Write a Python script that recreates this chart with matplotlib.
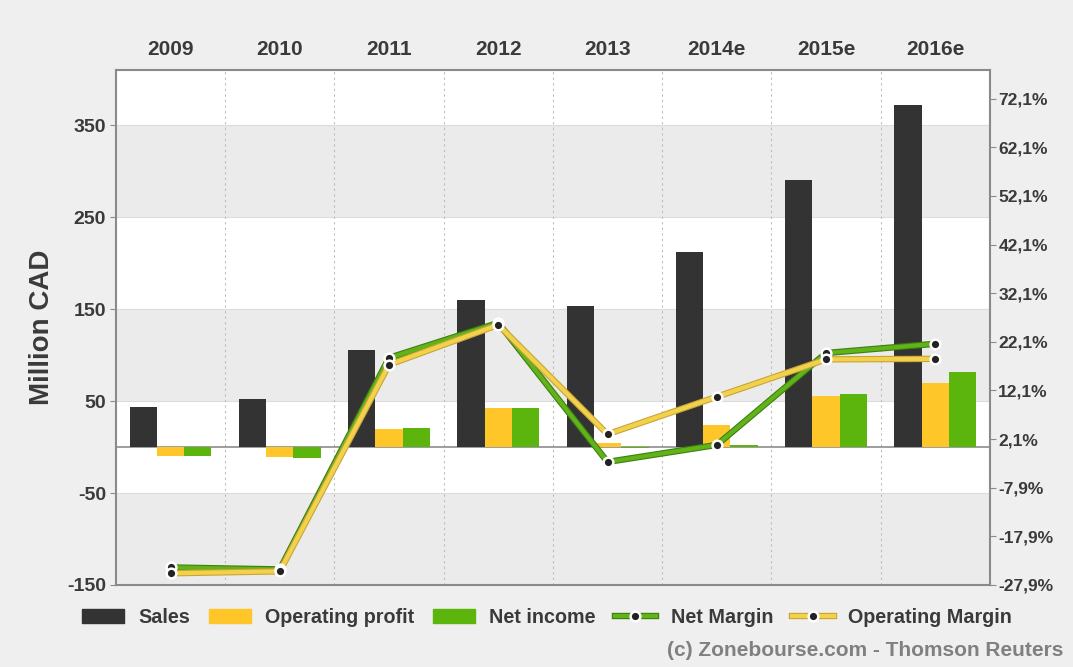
import numpy as np
import matplotlib
matplotlib.use("Agg")
from matplotlib import pyplot as plt
from matplotlib import patheffects as pe
from matplotlib.patches import Patch
from matplotlib.legend_handler import HandlerTuple

plt.rcParams['font.family'] = ['Liberation Sans', 'DejaVu Sans']
plt.rcParams['font.weight'] = 'bold'

years = ['2009', '2010', '2011', '2012', '2013', '2014e', '2015e', '2016e']
sales = [44, 52, 106, 160, 153, 212, 290, 372]
op_profit = [-10, -11, 20, 42, 4, 24, 55, 70]
net_income = [-10, -12, 21, 42, -1, 2, 58, 82]
net_margin = [-24.3, -24.7, 18.8, 26.0, -2.6, 0.9, 19.8, 21.7]
op_margin = [-25.5, -25.1, 17.4, 25.6, 3.1, 10.8, 18.5, 18.6]

left_ticks = [-150, -50, 50, 150, 250, 350]
right_ticks = [-27.9, -17.9, -7.9, 2.1, 12.1, 22.1, 32.1, 42.1, 52.1, 62.1, 72.1]

c_sales = '#333333'
c_op = '#FFC629'
c_net = '#5CB50C'
c_text = '#3a3a3a'
c_axis = '#8a8a8a'

fig = plt.figure(figsize=(10.73, 6.67), dpi=100)
fig.patch.set_facecolor('#EFEFEF')
ax = fig.add_axes([0.108, 0.123, 0.8146, 0.772])
ax.set_facecolor('white')

ax.set_ylim(-150, 410)
ax.set_xlim(-0.5, len(years) - 0.5)

# alternating bands
for lo in [-150, 50, 250]:
    ax.axhspan(lo, lo + 100, color='#EBEBEB', zorder=0, lw=0)
for t in left_ticks[1:]:
    ax.axhline(t, color='#dcdcdc', lw=0.8, zorder=0.5)
ax.axhline(0, color='#8c8c8c', lw=1.2, zorder=1)
for b in np.arange(0.5, len(years) - 0.5, 1):
    ax.axvline(b, color='#bdbdbd', lw=0.8, ls=(0, (2, 3)), zorder=0.6)

x = np.arange(len(years))
w = 0.25
ax.bar(x - w, sales, w, color=c_sales, zorder=2)
ax.bar(x, op_profit, w, color=c_op, zorder=2)
ax.bar(x + w, net_income, w, color=c_net, zorder=2)

ax.set_yticks(left_ticks)
ax.set_yticklabels([str(t) for t in left_ticks])
ax.tick_params(axis='y', length=4, color=c_axis, labelsize=14, labelcolor=c_text, pad=3)
ax.set_ylabel('Million CAD', fontsize=20, fontweight='bold', color=c_text)
ax.yaxis.set_label_coords(-0.07, 0.5)

ax.xaxis.tick_top()
ax.set_xticks(x)
ax.set_xticklabels(years)
ax.tick_params(axis='x', length=0, labelsize=15, labelcolor=c_text, pad=8)

for s in ax.spines.values():
    s.set_color(c_axis)
    s.set_linewidth(1.5)

ax2 = ax.twinx()
ax2.set_ylim(-27.9, 78.0)
ax2.set_yticks(right_ticks)
ax2.set_yticklabels([('%.1f%%' % t).replace('.', ',') for t in right_ticks])
ax2.tick_params(axis='y', length=4, color=c_axis, labelsize=12.5, labelcolor=c_text, pad=2)
for s in ax2.spines.values():
    s.set_visible(False)

ln_net, = ax2.plot(x, net_margin, color='#62B21A', lw=3.0, zorder=3,
                   path_effects=[pe.Stroke(linewidth=4.6, foreground='#3E7F12'), pe.Normal()])
ln_op, = ax2.plot(x, op_margin, color='#F2D24A', lw=3.0, zorder=3,
                  path_effects=[pe.Stroke(linewidth=4.6, foreground='#C8A43A'), pe.Normal()])
mk_net, = ax2.plot(x, net_margin, ls='none', marker='o', ms=7, mfc='#222222', mec='white', mew=1.8, zorder=4)
mk_op, = ax2.plot(x, op_margin, ls='none', marker='o', ms=7, mfc='#222222', mec='white', mew=1.8, zorder=4)

handles = [Patch(color=c_sales), Patch(color=c_op), Patch(color=c_net),
           (ln_net, mk_net), (ln_op, mk_op)]
labels = ['Sales', 'Operating profit', 'Net income', 'Net Margin', 'Operating Margin']
fig.legend(handles, labels, loc='center left', bbox_to_anchor=(0.0676, 0.074), ncol=5,
           frameon=False, fontsize=14.2, handlelength=2.1, handleheight=0.7,
           handletextpad=0.75, columnspacing=0.95, borderpad=0,
           handler_map={tuple: HandlerTuple(ndivide=1)},
           labelcolor=c_text)

fig.text(0.991, 0.024, '(c) Zonebourse.com - Thomson Reuters', ha='right', va='center',
         fontsize=15, color='#808080')

fig.savefig('out.png', dpi=100, facecolor=fig.get_facecolor())
